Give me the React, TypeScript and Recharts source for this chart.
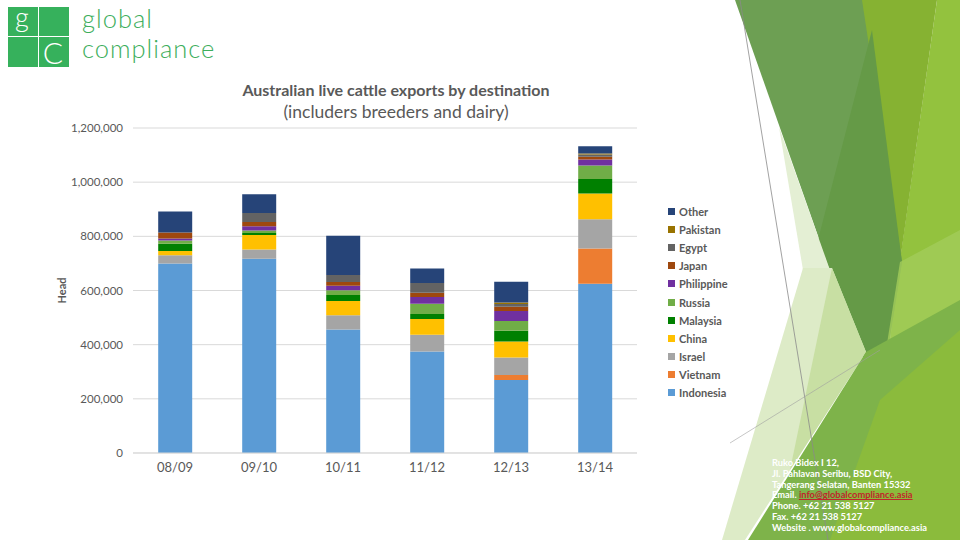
import { BarChart, Bar, XAxis, YAxis, CartesianGrid, Legend } from 'recharts';

const categories = ['08/09', '09/10', '10/11', '11/12', '12/13', '13/14'];

const indonesia = [700000, 717000, 456000, 375000, 270000, 625000];
const vietnam = [0, 0, 0, 0, 18000, 130000];
const israel = [30000, 34000, 53000, 62000, 65000, 108000];
const china = [16000, 54000, 52000, 58000, 59000, 95000];
const malaysia = [27000, 7000, 22000, 18000, 39000, 54000];
const russia = [12000, 10000, 18000, 38000, 36000, 50000];
const philippine = [7000, 15000, 17000, 25000, 37000, 22000];
const japan = [22000, 16000, 13000, 16000, 16000, 10000];
const egypt = [0, 33000, 26000, 36000, 10000, 8000];
const pakistan = [0, 0, 0, 0, 6000, 4000];
const other = [78000, 69000, 145000, 53000, 76000, 27000];

const yTicks = [0, 200000, 400000, 600000, 800000, 1000000, 1200000];

// bottom of the stack first
const series = [
  { key: 'Indonesia', values: indonesia, color: '#5B9BD5' },
  { key: 'Vietnam', values: vietnam, color: '#ED7D31' },
  { key: 'Israel', values: israel, color: '#A5A5A5' },
  { key: 'China', values: china, color: '#FFC000' },
  { key: 'Malaysia', values: malaysia, color: '#008000' },
  { key: 'Russia', values: russia, color: '#70AD47' },
  { key: 'Philippine', values: philippine, color: '#7030A0' },
  { key: 'Japan', values: japan, color: '#9E480E' },
  { key: 'Egypt', values: egypt, color: '#636363' },
  { key: 'Pakistan', values: pakistan, color: '#997300' },
  { key: 'Other', values: other, color: '#264478' },
];

const data = categories.map((c, i) => {
  const row: Record<string, string | number> = { year: c };
  series.forEach((s) => {
    row[s.key] = s.values[i];
  });
  return row;
});

const grey = '#595959';

function LegendBox() {
  return (
    <div>
      {[...series].reverse().map((s) => (
        <div
          key={s.key}
          style={{
            display: 'flex',
            alignItems: 'center',
            height: 18.2,
            fontSize: 11,
            fontWeight: 700,
            color: grey,
            fontFamily: 'Lato',
          }}
        >
          <span style={{ width: 7, height: 7, background: s.color, marginRight: 4 }} />
          {s.key}
        </div>
      ))}
    </div>
  );
}

function Decor() {
  return (
    <svg width={960} height={540} style={{ position: 'absolute', left: 0, top: 0 }}>
      <polygon points="937,0 960,0 960,540 870,540 880,420 900,260" fill="#93C23E" />
      <polygon points="860,0 937,0 900,262" fill="#86B232" />
      <polygon points="735,0 862,0 902,262 880,400 830,270" fill="#6D9F53" />
      <polygon points="872,30 902,262 880,400 818,240" fill="#659A47" />
      <polygon points="900,262 960,230 960,330 878,400" fill="#A2CC5A" opacity={0.8} />
      <polygon points="779,127 830,270 803,270" fill="#E4EFD4" />
      <polygon points="803,268 832,268 866,352 745,540 722,540" fill="#DDEBC7" />
      <polygon points="832,268 866,352 790,470" fill="#C8DFA3" />
      <polygon points="866,352 960,300 960,540 748,540" fill="#7EB34A" />
      <polygon points="880,400 960,330 960,540 830,540" fill="#8BBB3C" />
      <line x1={740} y1={0} x2={828} y2={540} stroke="#8A8A8A" strokeWidth={0.8} />
      <line x1={730} y1={443} x2={880} y2={350} stroke="#A0A0A0" strokeWidth={0.6} />
    </svg>
  );
}

function Logo() {
  return (
    <svg width={230} height={75} style={{ position: 'absolute', left: 0, top: 0 }}>
      <rect x={8} y={7} width={30} height={29} fill="#36B15C" />
      <rect x={39} y={7} width={30} height={29} fill="#36B15C" />
      <rect x={8} y={37} width={30} height={30} fill="#36B15C" />
      <rect x={39} y={37} width={30} height={30} fill="#36B15C" />
      <text x={22} y={27} textAnchor="middle" fill="#fff" fontFamily="Lato" fontWeight={300} fontSize={27}>
        g
      </text>
      <text x={53} y={64} textAnchor="middle" fill="#fff" fontFamily="Lato" fontWeight={300} fontSize={30}>
        C
      </text>
      <text x={82} y={28} fill="#3DAE5C" fontFamily="Lato" fontWeight={300} fontSize={25.5} letterSpacing={1}>
        global
      </text>
      <text x={82} y={58} fill="#3DAE5C" fontFamily="Lato" fontWeight={300} fontSize={25.5} letterSpacing={1}>
        compliance
      </text>
    </svg>
  );
}

export default function App() {
  return (
    <div
      style={{
        position: 'absolute',
        left: 0,
        top: 0,
        width: 960,
        height: 540,
        overflow: 'hidden',
        background: '#fff',
        fontFamily: 'Lato',
      }}
    >
      <Decor />
      <Logo />
      <div
        style={{
          position: 'absolute',
          left: 146,
          width: 500,
          top: 80,
          textAlign: 'center',
          color: grey,
          fontSize: 16,
          fontWeight: 700,
        }}
      >
        Australian live cattle exports by destination
      </div>
      <div
        style={{
          position: 'absolute',
          left: 146,
          width: 500,
          top: 101,
          textAlign: 'center',
          color: grey,
          fontSize: 17.5,
        }}
      >
        (includers breeders and dairy)
      </div>
      <div style={{ position: 'absolute', left: 50, top: 120 }}>
        <BarChart
          width={760}
          height={363}
          data={data}
          barCategoryGap="30%"
          margin={{ top: 8, right: 173, bottom: 0, left: 0 }}
        >
          <CartesianGrid vertical={false} stroke="#D9D9D9" />
          <XAxis
            dataKey="year"
            axisLine={{ stroke: '#D9D9D9' }}
            tickLine={false}
            tick={{ fill: grey, fontSize: 13, fontFamily: 'Lato' }}
            tickMargin={4}
            height={30}
          />
          <YAxis
            width={83}
            domain={[0, 1200000]}
            ticks={yTicks}
            axisLine={false}
            tickLine={false}
            tickMargin={4}
            tick={{ fill: grey, fontSize: 11.5, fontFamily: 'Lato' }}
            tickFormatter={(v: number) => v.toLocaleString('en-US')}
            label={{
              value: 'Head',
              angle: -90,
              position: 'insideLeft',
              offset: 12,
              style: { fill: grey, fontSize: 11, fontWeight: 700, fontFamily: 'Lato', textAnchor: 'middle' },
            }}
          />
          <Legend
            layout="vertical"
            align="center"
            verticalAlign="middle"
            wrapperStyle={{ left: 618, top: 82, width: 100 }}
            content={() => <LegendBox />}
          />
          {series.map((s) => (
            <Bar key={s.key} dataKey={s.key} stackId="a" fill={s.color} isAnimationActive={false} />
          ))}
        </BarChart>
      </div>
      <div
        style={{
          position: 'absolute',
          left: 772,
          top: 458,
          color: '#fff',
          fontSize: 9.3,
          fontWeight: 700,
          lineHeight: '10.8px',
          whiteSpace: 'nowrap',
        }}
      >
        <div>Ruko Bidex I 12,</div>
        <div>Jl. Pahlavan Seribu, BSD City,</div>
        <div>Tangerang Selatan, Banten 15332</div>
        <div>
          Email. <span style={{ color: '#C0262B', textDecoration: 'underline' }}>info@globalcompliance.asia</span>
        </div>
        <div>Phone. +62 21 538 5127</div>
        <div>Fax. +62 21 538 5127</div>
        <div>Website . www.globalcompliance.asia</div>
      </div>
    </div>
  );
}
